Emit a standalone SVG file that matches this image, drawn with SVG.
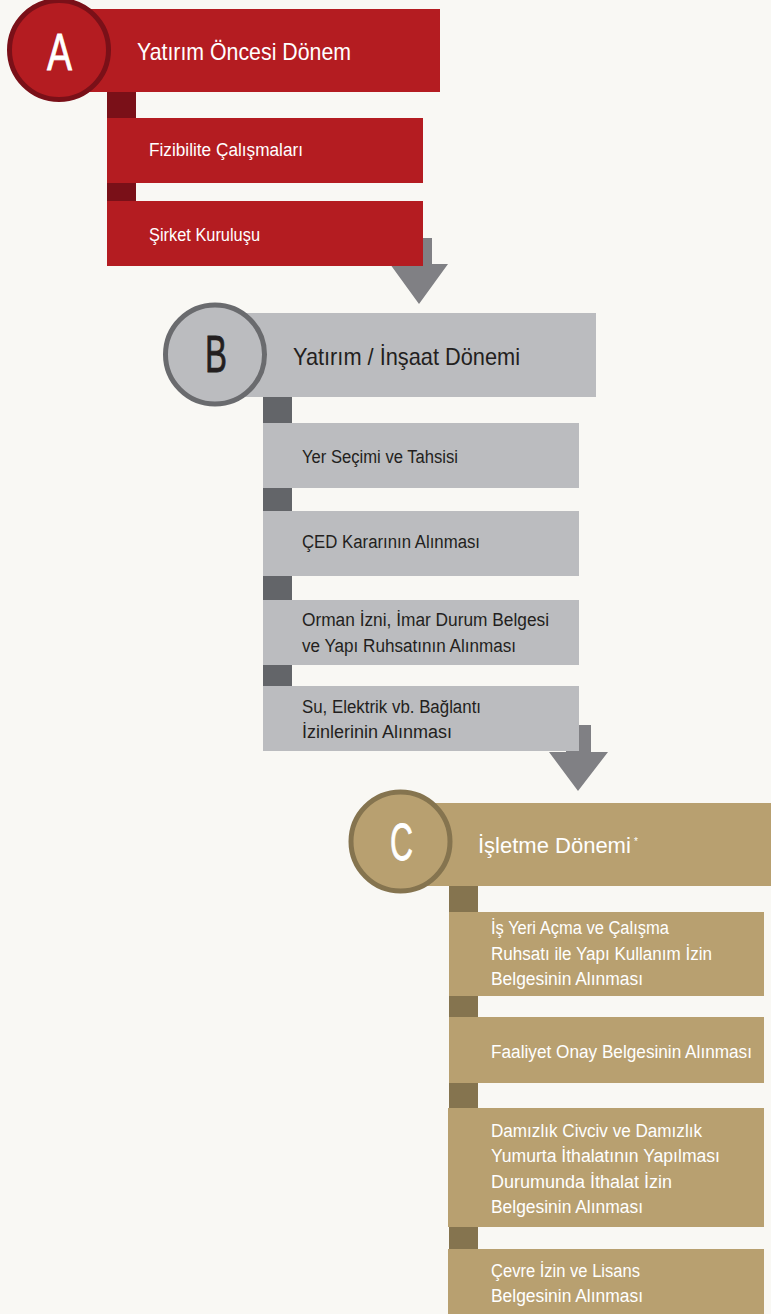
<svg xmlns="http://www.w3.org/2000/svg" width="771" height="1314" viewBox="0 0 771 1314">
<style>
text{font-family:"Liberation Sans",Arial,sans-serif}
.hdr{font-size:24px}
.it{font-size:18px}
.let{font-size:52px;stroke-width:0.8}
.w{fill:#ffffff}
.d{fill:#231f20}
.let.w{stroke:#ffffff}
.let.d{stroke:#231f20}
.rA{fill:#b41c21}.sA{fill:#7a1018}
.rB{fill:#bbbcbf}.sB{fill:#636569}
.rC{fill:#b8a070}.sC{fill:#85744f}
.arr{fill:#808084}
</style>
<rect x="0" y="0" width="771" height="1314" fill="#f9f8f4"/>
<g id="connectors">
<polygon class="arr" points="407,238 432,238 432,264 448,264 419,304 390,264 407,264"/>
<polygon class="arr" points="566,725 591,725 591,752 608,752 578,791 549,752 566,752"/>
</g>
<g id="nodeA">
<rect class="rA" x="70" y="9" width="370" height="83"/>
<circle cx="59" cy="50" r="49.5" class="rA" stroke="#7a1018" stroke-width="5"/>
<text class="let w" x="47" y="70" textLength="25" lengthAdjust="spacingAndGlyphs">A</text>
<text class="hdr w" x="137" y="60" textLength="214" lengthAdjust="spacingAndGlyphs">Yatırım Öncesi Dönem</text>
</g>
<g id="nodeA1">
<rect class="sA" x="107" y="92" width="29" height="26"/>
<rect class="rA" x="107" y="118" width="316" height="65"/>
<text class="it w" x="149" y="156" textLength="154" lengthAdjust="spacingAndGlyphs">Fizibilite Çalışmaları</text>
</g>
<g id="nodeA2">
<rect class="sA" x="107" y="183" width="29" height="18"/>
<rect class="rA" x="107" y="201" width="316" height="65"/>
<text class="it w" x="149" y="241" textLength="111" lengthAdjust="spacingAndGlyphs">Şirket Kuruluşu</text>
</g>
<g id="nodeB">
<rect class="rB" x="225" y="313" width="371" height="84"/>
<circle cx="215" cy="354.5" r="49.5" class="rB" stroke="#6a6b6e" stroke-width="5"/>
<text class="let d" x="205" y="372" textLength="22" lengthAdjust="spacingAndGlyphs">B</text>
<text class="hdr d" x="293" y="365" textLength="227" lengthAdjust="spacingAndGlyphs">Yatırım / İnşaat Dönemi</text>
</g>
<g id="nodeB1">
<rect class="sB" x="263" y="397" width="29" height="26"/>
<rect class="rB" x="263" y="423" width="316" height="65"/>
<text class="it d" x="302" y="463" textLength="156" lengthAdjust="spacingAndGlyphs">Yer Seçimi ve Tahsisi</text>
</g>
<g id="nodeB2">
<rect class="sB" x="263" y="488" width="29" height="23"/>
<rect class="rB" x="263" y="511" width="316" height="65"/>
<text class="it d" x="302" y="548" textLength="178" lengthAdjust="spacingAndGlyphs">ÇED Kararının Alınması</text>
</g>
<g id="nodeB3">
<rect class="sB" x="263" y="576" width="29" height="24"/>
<rect class="rB" x="263" y="600" width="316" height="65"/>
<text class="it d" x="302" y="626" textLength="247" lengthAdjust="spacingAndGlyphs">Orman İzni, İmar Durum Belgesi</text>
<text class="it d" x="302" y="652" textLength="214" lengthAdjust="spacingAndGlyphs">ve Yapı Ruhsatının Alınması</text>
</g>
<g id="nodeB4">
<rect class="sB" x="263" y="665" width="29" height="21"/>
<rect class="rB" x="263" y="686" width="316" height="65"/>
<text class="it d" x="302" y="713" textLength="179" lengthAdjust="spacingAndGlyphs">Su, Elektrik vb. Bağlantı</text>
<text class="it d" x="302" y="738" textLength="150" lengthAdjust="spacingAndGlyphs">İzinlerinin Alınması</text>
</g>
<g id="nodeC">
<rect class="rC" x="410" y="803" width="361" height="83"/>
<circle cx="400.5" cy="841.5" r="49.5" class="rC" stroke="#85744f" stroke-width="5"/>
<text class="let w" x="390" y="860" textLength="23" lengthAdjust="spacingAndGlyphs">C</text>
<text class="w" x="478" y="853" font-size="22">İşletme Dönemi</text>
<text class="w" x="634" y="845" font-size="10">*</text>
</g>
<g id="nodeC1">
<rect class="sC" x="449" y="886" width="29" height="26"/>
<rect class="rC" x="449" y="912" width="315" height="84"/>
<text class="it w" x="491" y="934" textLength="178" lengthAdjust="spacingAndGlyphs">İş Yeri Açma ve Çalışma</text>
<text class="it w" x="491" y="960" textLength="221" lengthAdjust="spacingAndGlyphs">Ruhsatı ile Yapı Kullanım İzin</text>
<text class="it w" x="491" y="985" textLength="152" lengthAdjust="spacingAndGlyphs">Belgesinin Alınması</text>
</g>
<g id="nodeC2">
<rect class="sC" x="449" y="996" width="29" height="21"/>
<rect class="rC" x="449" y="1017" width="315" height="66"/>
<text class="it w" x="491" y="1058" textLength="261" lengthAdjust="spacingAndGlyphs">Faaliyet Onay Belgesinin Alınması</text>
</g>
<g id="nodeC3">
<rect class="sC" x="449" y="1083" width="29" height="25"/>
<rect class="rC" x="448" y="1108" width="316" height="119"/>
<text class="it w" x="491" y="1137" textLength="211" lengthAdjust="spacingAndGlyphs">Damızlık Civciv ve Damızlık</text>
<text class="it w" x="491" y="1162" textLength="229" lengthAdjust="spacingAndGlyphs">Yumurta İthalatının Yapılması</text>
<text class="it w" x="491" y="1188" textLength="181" lengthAdjust="spacingAndGlyphs">Durumunda İthalat İzin</text>
<text class="it w" x="491" y="1213" textLength="152" lengthAdjust="spacingAndGlyphs">Belgesinin Alınması</text>
</g>
<g id="nodeC4">
<rect class="sC" x="449" y="1227" width="29" height="22"/>
<rect class="rC" x="448" y="1249" width="316" height="65"/>
<text class="it w" x="491" y="1277" textLength="149" lengthAdjust="spacingAndGlyphs">Çevre İzin ve Lisans</text>
<text class="it w" x="491" y="1302" textLength="152" lengthAdjust="spacingAndGlyphs">Belgesinin Alınması</text>
</g>
</svg>
